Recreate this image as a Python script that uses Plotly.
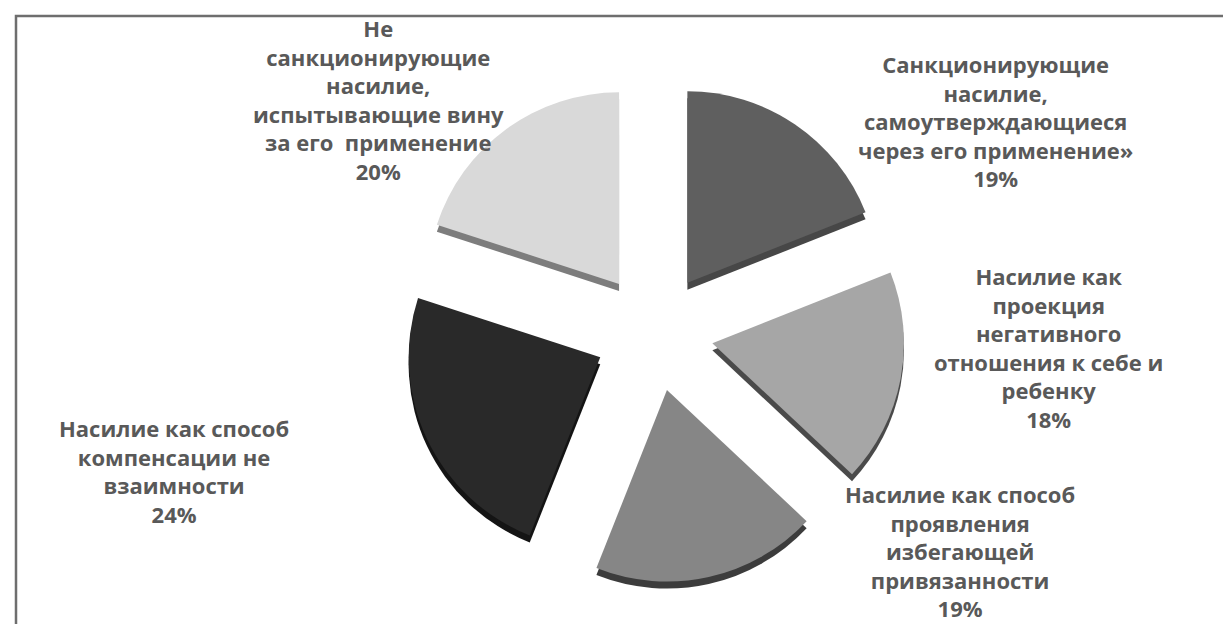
import plotly.graph_objects as go

# Data
labels = [
    "Санкционирующие<br>насилие,<br>самоутверждающиеся<br>через его применение»",
    "Насилие как<br>проекция<br>негативного<br>отношения к себе и<br>ребенку",
    "Насилие как способ<br>проявления<br>избегающей<br>привязанности",
    "Насилие как способ<br>компенсации не<br>взаимности",
    "Не<br>санкционирующие<br>насилие,<br>испытывающие вину<br>за его  применение",
]
values = [19, 18, 19, 24, 20]
colors = ["#5f5f5f", "#a6a6a6", "#868686", "#292929", "#d9d9d9"]
side_colors = ["#474747", "#4a4a4a", "#3c3c3c", "#141414", "#7d7d7d"]
pulls = [0.31, 0.31, 0.31, 0.31, 0.31]

# label anchor positions (pixels in a 1231x624 canvas)
label_pos = [(988, 113), (1040, 339), (952, 543), (166, 463), (370, 91)]

W, H = 1231, 624
cx, cy = 646, 324
diam = 502
dom_x = [(cx - diam / 2) / W, (cx + diam / 2) / W]
dom_y = [1 - (cy + diam / 2) / H, 1 - (cy - diam / 2) / H]
shift = 7 / H

fig = go.Figure()
# side (thickness) layer
fig.add_trace(go.Pie(
    values=values, labels=[l.replace("<br>", " ") for l in labels],
    sort=False, direction="clockwise", rotation=0, pull=pulls,
    marker=dict(colors=side_colors, line=dict(width=0)),
    textinfo="none", hoverinfo="skip",
    domain=dict(x=dom_x, y=[dom_y[0] - shift, dom_y[1] - shift]),
    showlegend=False,
))
# top layer
fig.add_trace(go.Pie(
    values=values, labels=[l.replace("<br>", " ") for l in labels],
    sort=False, direction="clockwise", rotation=0, pull=pulls,
    marker=dict(colors=colors, line=dict(width=0)),
    textinfo="none",
    domain=dict(x=dom_x, y=dom_y),
    showlegend=False,
))

total = sum(values)
for lab, v, (px, py) in zip(labels, values, label_pos):
    fig.add_annotation(
        x=px / W, y=1 - py / H, xref="paper", yref="paper",
        text=f"<b>{lab}<br>{round(100 * v / total)}%</b>",
        showarrow=False, align="center", xanchor="center", yanchor="middle",
        font=dict(family="Open Sans", size=22, color="#595959"),
    )

fig.add_shape(type="rect", xref="paper", yref="paper",
              x0=8 / W, x1=1228 / W, y0=-0.05, y1=1 - 8 / H,
              line=dict(color="#6e6e6e", width=2.5), fillcolor="rgba(0,0,0,0)")

fig.update_layout(
    width=W, height=H,
    margin=dict(l=0, r=0, t=0, b=0),
    paper_bgcolor="white", plot_bgcolor="white",
    showlegend=False,
)
fig.write_html("out.html")
